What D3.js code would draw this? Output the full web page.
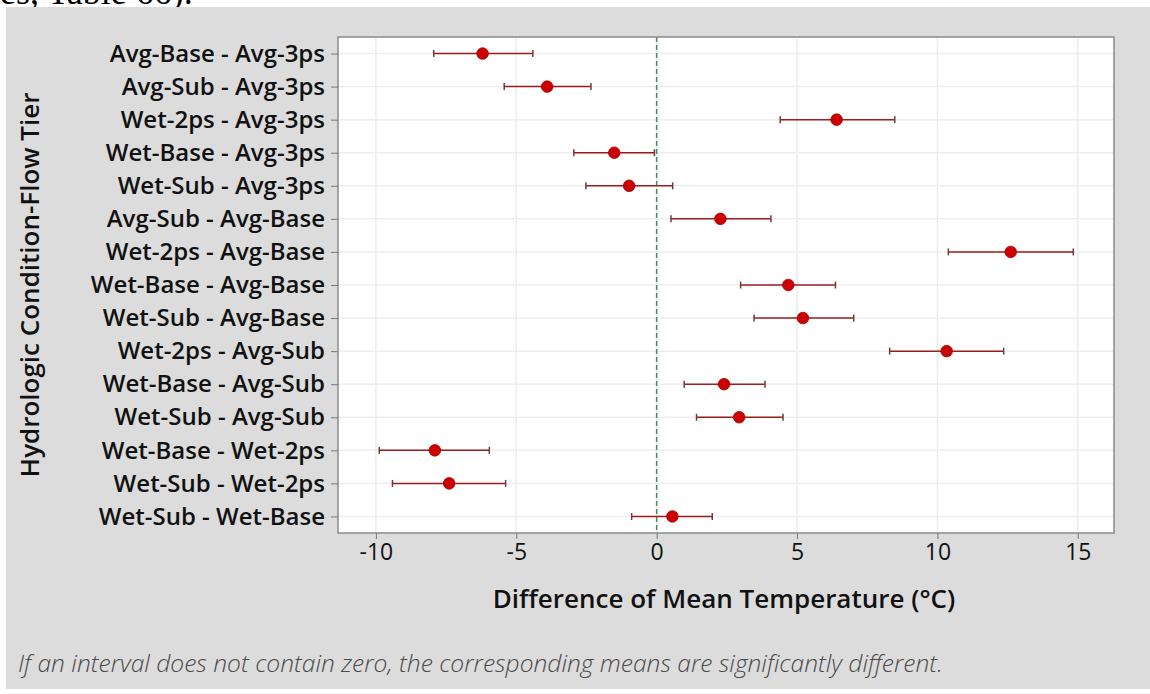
<!DOCTYPE html>
<html>
<head>
<meta charset="utf-8">
<script src="https://cdn.jsdelivr.net/npm/d3@7"></script>
<style>
  body { margin: 0; background: #fff; }
  svg text { font-family: "Open Sans", "Noto Sans", sans-serif; }
</style>
</head>
<body>
<svg id="chart" width="1150" height="694"></svg>
<script>
// comparisons, top to bottom
var comparisons = [
  "Avg-Base - Avg-3ps", "Avg-Sub - Avg-3ps", "Wet-2ps - Avg-3ps",
  "Wet-Base - Avg-3ps", "Wet-Sub - Avg-3ps", "Avg-Sub - Avg-Base",
  "Wet-2ps - Avg-Base", "Wet-Base - Avg-Base", "Wet-Sub - Avg-Base",
  "Wet-2ps - Avg-Sub", "Wet-Base - Avg-Sub", "Wet-Sub - Avg-Sub",
  "Wet-Base - Wet-2ps", "Wet-Sub - Wet-2ps", "Wet-Sub - Wet-Base"
];
var meanDiff = [-6.20, -3.90, 6.41, -1.51, -0.98, 2.27, 12.61, 4.69, 5.21, 10.33, 2.40, 2.94, -7.90, -7.39, 0.56];
var lowerCI  = [-7.94, -5.43, 4.40, -2.95, -2.52, 0.51, 10.39, 2.99, 3.47, 8.30, 0.98, 1.42, -9.88, -9.41, -0.89];
var upperCI  = [-4.41, -2.34, 8.48, -0.08, 0.57, 4.07, 14.84, 6.37, 7.02, 12.36, 3.86, 4.50, -5.96, -5.38, 1.98];
var xTicks = [-10, -5, 0, 5, 10, 15];

var rows = comparisons.map(function(c, i) {
  return { name: c, mean: meanDiff[i], lo: lowerCI[i], hi: upperCI[i] };
});

var svg = d3.select("#chart");

// cut-off line of document text above the figure
svg.append("text")
  .attr("x", 0).attr("y", 4)
  .style("font-family", "'Liberation Serif', serif")
  .style("font-size", "36px")
  .attr("fill", "#000")
  .text("es, Table 66).");

// grey panel
svg.append("rect")
  .attr("x", 6).attr("y", 7)
  .attr("width", 1144).attr("height", 682)
  .attr("fill", "#dcdcdc");

var plot = { left: 338, top: 37, right: 1114, bottom: 533 };

var x = d3.scaleLinear()
  .domain([-11.35, 16.29])
  .range([plot.left, plot.right]);

var y = d3.scalePoint()
  .domain(comparisons)
  .range([plot.top, plot.bottom])
  .padding(0.5);

// plot background
svg.append("rect")
  .attr("x", plot.left).attr("y", plot.top)
  .attr("width", plot.right - plot.left).attr("height", plot.bottom - plot.top)
  .attr("fill", "#fff");

// gridlines
svg.append("g").selectAll("line")
  .data(xTicks)
  .enter().append("line")
  .attr("x1", d => x(d)).attr("x2", d => x(d))
  .attr("y1", plot.top).attr("y2", plot.bottom)
  .attr("stroke", "#ececec").attr("stroke-width", 1.5);

svg.append("g").selectAll("line")
  .data(comparisons)
  .enter().append("line")
  .attr("x1", plot.left).attr("x2", plot.right)
  .attr("y1", d => y(d)).attr("y2", d => y(d))
  .attr("stroke", "#eeeeee").attr("stroke-width", 1.5);

// zero reference line
svg.append("line")
  .attr("x1", x(0)).attr("x2", x(0))
  .attr("y1", plot.top).attr("y2", plot.bottom)
  .attr("stroke", "#3f8f5f")
  .attr("stroke-width", 1.5)
  .attr("stroke-dasharray", "5,3");

// border
svg.append("rect")
  .attr("x", plot.left).attr("y", plot.top)
  .attr("width", plot.right - plot.left).attr("height", plot.bottom - plot.top)
  .attr("fill", "none")
  .attr("stroke", "#8a8a8a").attr("stroke-width", 1.5);

// x axis
var xAxis = svg.append("g")
  .attr("transform", "translate(0," + plot.bottom + ")")
  .call(d3.axisBottom(x).tickValues(xTicks).tickSize(6).tickPadding(5).tickFormat(d3.format("d")));
xAxis.select(".domain").remove();
xAxis.selectAll("line").attr("stroke", "#777");
xAxis.selectAll("text")
  .attr("fill", "#111")
  .style("font-size", "23px")
  .style("font-weight", "500")
  .text(d => d < 0 ? "-" + Math.abs(d) : d);

// y axis
var yAxis = svg.append("g")
  .attr("transform", "translate(" + plot.left + ",0)")
  .call(d3.axisLeft(y).tickSize(7).tickPadding(6));
yAxis.select(".domain").remove();
yAxis.selectAll("line").attr("stroke", "#777");
yAxis.selectAll("text")
  .attr("fill", "#111")
  .style("font-size", "24px")
  .style("font-weight", "600");

// intervals
var bars = svg.append("g").selectAll("g")
  .data(rows)
  .enter().append("g");

bars.append("line")
  .attr("x1", d => x(d.lo)).attr("x2", d => x(d.hi))
  .attr("y1", d => y(d.name)).attr("y2", d => y(d.name))
  .attr("stroke", "#9e1c1c").attr("stroke-width", 1.5);

bars.append("line")
  .attr("x1", d => x(d.lo)).attr("x2", d => x(d.lo))
  .attr("y1", d => y(d.name) - 3.5).attr("y2", d => y(d.name) + 3.5)
  .attr("stroke", "#6e3a3a").attr("stroke-width", 1.5);

bars.append("line")
  .attr("x1", d => x(d.hi)).attr("x2", d => x(d.hi))
  .attr("y1", d => y(d.name) - 3.5).attr("y2", d => y(d.name) + 3.5)
  .attr("stroke", "#6e3a3a").attr("stroke-width", 1.5);

bars.append("circle")
  .attr("cx", d => x(d.mean))
  .attr("cy", d => y(d.name))
  .attr("r", 5.8)
  .attr("fill", "#cc0000")
  .attr("stroke", "#a30000")
  .attr("stroke-width", 0.8);

// axis titles
svg.append("text")
  .attr("x", (plot.left + plot.right) / 2 - 2)
  .attr("y", 608)
  .attr("text-anchor", "middle")
  .attr("fill", "#111")
  .style("font-size", "26px")
  .style("font-weight", "600")
  .text("Difference of Mean Temperature (°C)");

svg.append("text")
  .attr("transform", "translate(39," + ((plot.top + plot.bottom) / 2) + ") rotate(-90)")
  .attr("text-anchor", "middle")
  .attr("fill", "#111")
  .style("font-size", "26px")
  .style("font-weight", "600")
  .text("Hydrologic Condition-Flow Tier");

// footnote
svg.append("text")
  .attr("x", 18).attr("y", 672)
  .attr("fill", "#4a4a4a")
  .style("font-size", "24.6px")
  .style("font-style", "italic")
  .style("font-weight", "300")
  .text("If an interval does not contain zero, the corresponding means are significantly different.");
</script>
</body>
</html>
